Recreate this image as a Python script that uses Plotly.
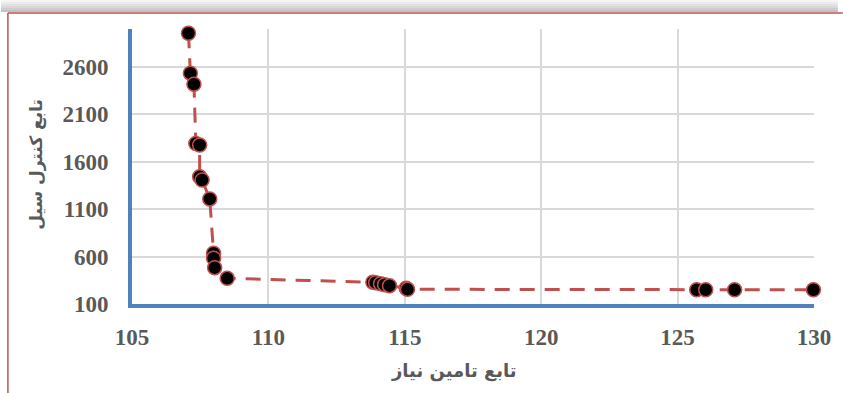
import plotly.graph_objects as go

# Data
x_supply = [107.07, 107.14, 107.27, 107.34, 107.48, 107.48, 107.57, 107.85,
            107.99, 107.99, 108.03, 108.49, 113.83, 113.93, 114.11, 114.26,
            114.44, 115.05, 115.10, 125.70, 126.03, 127.09, 129.98]
y_flood = [2955, 2534, 2418, 1793, 1777, 1443, 1408, 1208,
           635, 582, 483, 371, 329, 325, 314, 304,
           293, 266, 255, 250, 250, 250, 250]

x_ticks = [105, 110, 115, 120, 125, 130]
y_ticks = [100, 600, 1100, 1600, 2100, 2600]
x_range = [105, 130]
y_range = [100, 3000]

x_title = "تابع تامین نیاز"
y_title = "تابع کنترل سیل"

W, H = 843, 393
L, R, T, B = 132, 24, 29, 89
pw, ph = W - L - R, H - T - B

def px_x(p):
    return (p - L) / pw

def px_y(p):
    return (H - B - p) / ph

RED = "#c0504d"
BLUE = "#4f81bd"
GRAY = "#595959"
GRID = "#d9d9d9"

fig = go.Figure()
fig.add_trace(go.Scatter(
    x=x_supply, y=y_flood, mode="lines+markers",
    line=dict(color=RED, width=3, dash="15px,10px"),
    marker=dict(color="black", size=14, line=dict(color=RED, width=1.5)),
    showlegend=False, cliponaxis=False,
))

shapes = []
# top shadow gradient
shadow = ["#f5f5f5", "#ececec", "#e2e2e2", "#d8d8d8", "#cdcdcd", "#c2c2c2"]
for i, c in enumerate(shadow):
    shapes.append(dict(type="rect", xref="paper", yref="paper",
                       x0=px_x(0), x1=px_x(W), y0=px_y(2 * i), y1=px_y(2 * i + 2),
                       fillcolor=c, line=dict(width=0), layer="below"))
# chart frame (red)
shapes.append(dict(type="line", xref="paper", yref="paper",
                   x0=px_x(7), x1=px_x(W + 5), y0=px_y(13), y1=px_y(13),
                   line=dict(color=RED, width=1.5)))
shapes.append(dict(type="line", xref="paper", yref="paper",
                   x0=px_x(7), x1=px_x(7), y0=px_y(13), y1=px_y(H + 5),
                   line=dict(color=RED, width=1.5)))

fig.update_layout(
    width=W, height=H,
    margin=dict(l=L, r=R, t=T, b=B),
    paper_bgcolor="white", plot_bgcolor="white",
    shapes=shapes,
    xaxis=dict(range=x_range, tickvals=x_ticks, showgrid=True, gridcolor=GRID,
               gridwidth=1.5, zeroline=False, showline=True, linecolor=BLUE,
               linewidth=4, ticks="", ticklabelstandoff=9,
               tickfont=dict(family="Liberation Serif", size=23, color=GRAY, weight="bold")),
    yaxis=dict(range=y_range, tickvals=y_ticks, showgrid=True, gridcolor=GRID,
               gridwidth=1.5, zeroline=False, showline=True, linecolor=BLUE,
               linewidth=4, ticks="", ticklabelstandoff=15,
               tickfont=dict(family="Liberation Serif", size=23, color=GRAY, weight="bold")),
    annotations=[
        dict(text=x_title, xref="paper", yref="paper", x=px_x(456), y=px_y(371),
             showarrow=False, xanchor="center", yanchor="middle",
             font=dict(family="DejaVu Sans", size=18, color=GRAY, weight="bold")),
        dict(text=y_title, xref="paper", yref="paper", x=px_x(35), y=px_y(164),
             showarrow=False, xanchor="center", yanchor="middle", textangle=-90,
             font=dict(family="DejaVu Sans", size=17, color=GRAY, weight="bold")),
    ],
)

fig.write_html("out.html")
